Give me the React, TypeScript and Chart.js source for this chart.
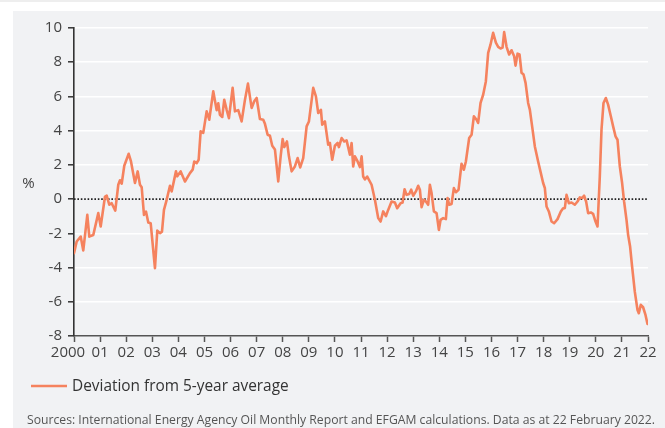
import React, { useEffect, useRef } from "react";
import { Chart, registerables } from "chart.js";

Chart.register(...registerables);

// Decimal year of each observation
const dateYears = [
  2000.0, 2000.103, 2000.257, 2000.356, 2000.51, 2000.586, 2000.739, 2000.931,
  2001.023, 2001.188, 2001.253, 2001.352, 2001.444, 2001.582, 2001.697, 2001.762,
  2001.828, 2001.927, 2002.096, 2002.184, 2002.337, 2002.441, 2002.529, 2002.594,
  2002.682, 2002.759, 2002.847, 2002.939, 2003.103, 2003.192, 2003.295, 2003.372,
  2003.448, 2003.552, 2003.678, 2003.743, 2003.908, 2003.958, 2004.088, 2004.253,
  2004.444, 2004.548, 2004.609, 2004.701, 2004.778, 2004.854, 2004.954, 2005.084,
  2005.184, 2005.337, 2005.467, 2005.529, 2005.594, 2005.682, 2005.759, 2005.851,
  2005.939, 2006.08, 2006.169, 2006.295, 2006.425, 2006.552, 2006.667, 2006.808,
  2006.908, 2007.0, 2007.126, 2007.253, 2007.318, 2007.421, 2007.51, 2007.598,
  2007.701, 2007.828, 2007.92, 2007.996, 2008.057, 2008.161, 2008.238, 2008.341,
  2008.467, 2008.571, 2008.67, 2008.785, 2008.916, 2009.004, 2009.169, 2009.272,
  2009.36, 2009.464, 2009.513, 2009.617, 2009.743, 2009.808, 2009.897, 2010.0,
  2010.103, 2010.153, 2010.257, 2010.356, 2010.448, 2010.575, 2010.64, 2010.701,
  2010.766, 2010.87, 2010.958, 2011.023, 2011.084, 2011.149, 2011.238, 2011.406,
  2011.533, 2011.659, 2011.751, 2011.851, 2011.954, 2012.042, 2012.172, 2012.299,
  2012.387, 2012.517, 2012.594, 2012.67, 2012.747, 2012.847, 2012.923, 2013.0,
  2013.103, 2013.192, 2013.257, 2013.322, 2013.41, 2013.487, 2013.575, 2013.64,
  2013.705, 2013.793, 2013.897, 2013.985, 2014.05, 2014.149, 2014.253, 2014.318,
  2014.379, 2014.471, 2014.559, 2014.636, 2014.739, 2014.854, 2014.943, 2015.019,
  2015.146, 2015.238, 2015.326, 2015.429, 2015.49, 2015.582, 2015.682, 2015.785,
  2015.874, 2015.966, 2016.065, 2016.169, 2016.257, 2016.349, 2016.425, 2016.487,
  2016.579, 2016.678, 2016.77, 2016.87, 2016.923, 2017.0, 2017.077, 2017.153,
  2017.23, 2017.307, 2017.406, 2017.471, 2017.559, 2017.663, 2017.789, 2017.893,
  2017.981, 2018.046, 2018.111, 2018.199, 2018.303, 2018.402, 2018.533, 2018.659,
  2018.747, 2018.812, 2018.877, 2018.966, 2019.069, 2019.195, 2019.299, 2019.387,
  2019.475, 2019.552, 2019.628, 2019.705, 2019.808, 2019.897, 2019.989, 2020.065,
  2020.153, 2020.218, 2020.295, 2020.383, 2020.471, 2020.575, 2020.663, 2020.755,
  2020.831, 2020.92, 2021.008, 2021.084, 2021.176, 2021.238, 2021.314, 2021.391,
  2021.494, 2021.598, 2021.648, 2021.724, 2021.812, 2021.904, 2021.981,
];

// Deviation of commercial oil stocks from 5-year average (%)
const deviationPct = [
  -3.16, -2.48, -2.19, -3.0, -0.92, -2.19, -2.1, -0.82,
  -1.6, 0.15, 0.2, -0.33, -0.24, -0.67, 0.84, 1.1,
  0.9, 1.95, 2.65, 2.2, 0.94, 1.62, 0.84, 0.7,
  -0.92, -0.73, -1.37, -1.41, -4.04, -1.84, -1.99, -1.9,
  -0.63, -0.04, 0.78, 0.45, 1.62, 1.33, 1.62, 1.03,
  1.52, 1.72, 2.2, 2.1, 2.3, 3.96, 3.87, 5.13,
  4.64, 6.3, 5.2, 5.6, 4.93, 4.8, 5.81, 5.22,
  4.73, 6.5, 5.13, 5.2, 4.54, 5.8, 6.75, 5.33,
  5.72, 5.91, 4.68, 4.64, 4.4, 3.76, 3.7, 3.12,
  2.9, 1.03, 2.5, 3.51, 3.04, 3.37, 2.5, 1.62,
  1.91, 2.4, 1.85, 2.4, 4.25, 4.54, 6.5, 6.0,
  5.03, 5.22, 4.35, 4.54, 3.18, 3.28, 2.3, 3.12,
  3.28, 3.04, 3.57, 3.37, 3.43, 2.6, 3.28, 1.91,
  2.5, 2.2, 1.87, 2.5, 1.32, 1.15, 1.32, 0.84,
  -0.04, -1.11, -1.31, -0.72, -1.0, -0.63, -0.14, -0.2,
  -0.53, -0.24, -0.2, 0.58, 0.25, 0.3, 0.55, 0.2,
  0.45, 0.78, 0.55, -0.47, -0.04, -0.14, -0.33, 0.84,
  0.35, -0.72, -0.82, -1.8, -1.21, -1.11, -1.17, 0.06,
  -0.33, -0.28, 0.64, 0.4, 0.55, 2.07, 1.72, 2.2,
  3.57, 3.76, 4.84, 4.64, 4.45, 5.62, 6.1, 6.88,
  8.55, 9.04, 9.72, 9.14, 8.9, 8.8, 8.85, 9.76,
  8.9, 8.45, 8.7, 8.35, 7.8, 8.5, 8.45, 7.38,
  7.28, 6.79, 5.62, 5.23, 4.25, 3.08, 2.2, 1.52,
  0.94, 0.65, -0.43, -0.72, -1.31, -1.41, -1.17, -0.72,
  -0.53, -0.53, 0.25, -0.24, -0.2, -0.33, -0.14, 0.1,
  0.06, 0.2, -0.14, -0.82, -0.78, -0.86, -1.31, -1.6,
  1.32, 4.06, 5.62, 5.91, 5.52, 4.84, 4.25, 3.67,
  3.47, 1.91, 0.94, -0.14, -1.21, -2.09, -2.77, -3.94,
  -5.41, -6.48, -6.67, -6.18, -6.32, -6.77, -7.3,
];

const yTicks = [-8, -6, -4, -2, 0, 2, 4, 6, 8, 10];
const xTickYears = [
  2000, 2001, 2002, 2003, 2004, 2005, 2006, 2007, 2008, 2009, 2010, 2011,
  2012, 2013, 2014, 2015, 2016, 2017, 2018, 2019, 2020, 2021, 2022,
];
const xTickLabels = [
  "2000", "01", "02", "03", "04", "05", "06", "07", "08", "09", "10", "11",
  "12", "13", "14", "15", "16", "17", "18", "19", "20", "21", "22",
];

const seriesLabel = "Deviation from 5-year average";
const sourceText =
  "Sources: International Energy Agency Oil Monthly Report and EFGAM calculations. Data as at 22 February 2022.";

const FONT = "'Open Sans', 'Noto Sans', sans-serif";
const LINE_COLOR = "#f5825e";

const decorPlugin = {
  id: "decor",
  beforeDraw(chart: any) {
    const ctx = chart.ctx;
    ctx.save();
    ctx.fillStyle = "#ffffff";
    ctx.fillRect(0, 0, chart.width, chart.height);
    ctx.fillStyle = "#eeeeee";
    ctx.fillRect(0, 0, chart.width, 2);
    ctx.fillStyle = "#f1f2f4";
    ctx.fillRect(13, 11, chart.width - 13, chart.height - 11);
    ctx.restore();
  },
  beforeDatasetsDraw(chart: any) {
    const ctx = chart.ctx;
    const y0 = chart.scales.y.getPixelForValue(0);
    const { left, right } = chart.chartArea;
    ctx.save();
    ctx.strokeStyle = "#222222";
    ctx.lineWidth = 1.6;
    ctx.setLineDash([1.6, 1.8]);
    ctx.beginPath();
    ctx.moveTo(left, y0);
    ctx.lineTo(right, y0);
    ctx.stroke();
    ctx.restore();
  },
  afterDraw(chart: any) {
    const ctx = chart.ctx;
    const xs = chart.scales.x;
    ctx.save();
    // x tick labels
    ctx.fillStyle = "#444444";
    ctx.font = `15px ${FONT}`;
    ctx.textAlign = "center";
    ctx.textBaseline = "middle";
    const labelY = xs.top + 17;
    xTickYears.forEach((yr, i) => {
      let px = xs.getPixelForValue(yr);
      if (i === 0) px -= 6;
      ctx.fillText(xTickLabels[i], px, labelY);
    });
    // "%" unit label
    ctx.fillText("%", 28.5, 184);
    // legend
    ctx.strokeStyle = LINE_COLOR;
    ctx.lineWidth = 2.6;
    ctx.beginPath();
    ctx.moveTo(31, 386);
    ctx.lineTo(67, 386);
    ctx.stroke();
    ctx.fillStyle = "#333333";
    ctx.font = `15.4px ${FONT}`;
    ctx.textAlign = "left";
    ctx.fillText(seriesLabel, 72, 387);
    // source
    ctx.fillStyle = "#555555";
    ctx.font = `12.2px ${FONT}`;
    ctx.fillText(sourceText, 27, 421);
    ctx.restore();
  },
};

export default function App() {
  const ref = useRef<HTMLCanvasElement | null>(null);

  useEffect(() => {
    document.body.style.margin = "0";
    const canvas = ref.current;
    if (!canvas) return;
    const chart = new Chart(canvas, {
      type: "line",
      data: {
        datasets: [
          {
            label: seriesLabel,
            data: dateYears.map((x, i) => ({ x, y: deviationPct[i] })),
            borderColor: LINE_COLOR,
            backgroundColor: LINE_COLOR,
            borderWidth: 2.6,
            pointRadius: 0,
            tension: 0,
            borderJoinStyle: "round",
            borderCapStyle: "round",
          },
        ],
      },
      options: {
        animation: false,
        responsive: false,
        devicePixelRatio: 1,
        layout: { padding: { left: 0, top: 28, right: 17, bottom: 0 } },
        plugins: {
          legend: { display: false },
          tooltip: { enabled: false },
        },
        scales: {
          x: {
            type: "linear",
            min: 2000,
            max: 2022,
            afterFit: (s: any) => {
              s.height = 92;
            },
            afterBuildTicks: (s: any) => {
              s.ticks = xTickYears.map((v) => ({ value: v }));
            },
            ticks: {
              display: false,
              autoSkip: false,
              maxRotation: 0,
              minRotation: 0,
            },
            grid: {
              drawOnChartArea: false,
              drawTicks: true,
              tickLength: 6,
              tickColor: "#555555",
              tickWidth: 1.5,
            },
            border: { color: "#555555", width: 1.6 },
          },
          y: {
            min: -8,
            max: 10,
            afterFit: (s: any) => {
              s.width = 74;
            },
            afterBuildTicks: (s: any) => {
              s.ticks = yTicks.map((v) => ({ value: v }));
            },
            ticks: {
              padding: 6,
              color: "#444444",
              font: { family: FONT, size: 15 },
            },
            grid: {
              color: (c: any) =>
                c.tick && (c.tick.value === 0 || c.tick.value === -8)
                  ? "rgba(0,0,0,0)"
                  : "#ffffff",
              lineWidth: 1.6,
              drawTicks: true,
              tickLength: 6,
              tickColor: "#333333",
              tickWidth: 1.5,
            },
            border: { color: "#333333", width: 1.6 },
          },
        },
      },
      plugins: [decorPlugin],
    } as any);
    return () => chart.destroy();
  }, []);

  return (
    <canvas
      ref={ref}
      width={665}
      height={428}
      style={{ display: "block", width: 665, height: 428 }}
    />
  );
}
